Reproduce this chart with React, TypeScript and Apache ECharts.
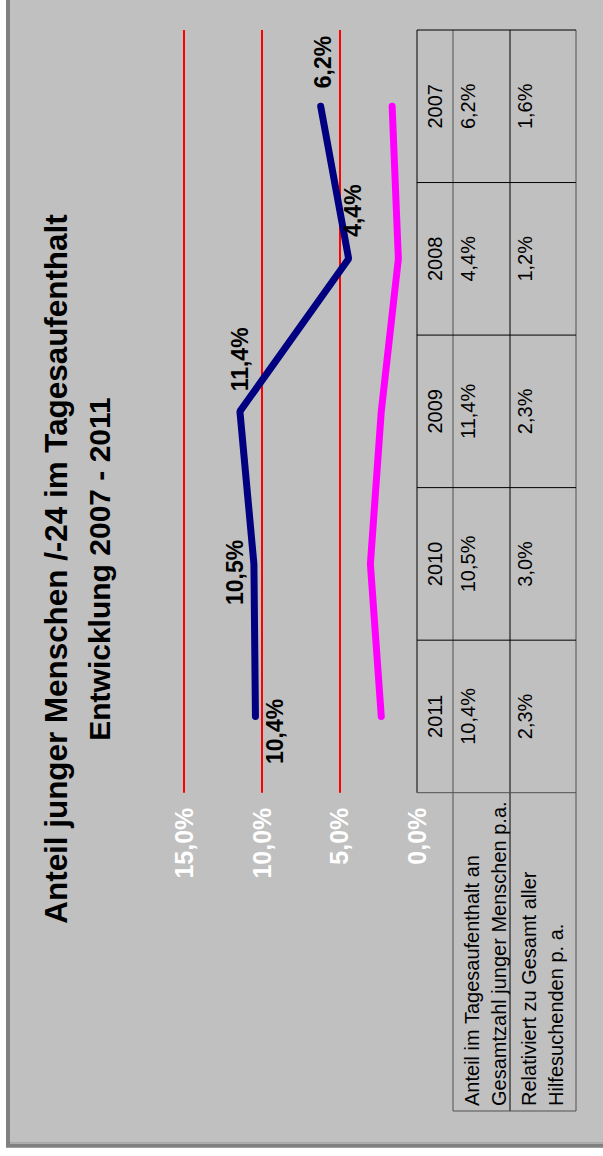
import React, { useEffect, useRef } from "react";
import * as echarts from "echarts";

// ---- data ----
const years = ["2007", "2008", "2009", "2010", "2011"];
const shareYoung = [6.2, 4.4, 11.4, 10.5, 10.4];
const shareRelative = [1.6, 1.2, 2.3, 3.0, 2.3];
const axisTickValues = [0, 5, 10, 15];
const axisTickLabels = ["0,0%", "5,0%", "10,0%", "15,0%"];
const rowHeaders = [
  ["Anteil im Tagesaufenthalt an", "Gesamtzahl junger Menschen p.a."],
  ["Relativiert zu Gesamt aller", "Hilfesuchenden p. a."],
];
const titleLines = [
  "Anteil junger Menschen /-24 im Tagesaufenthalt",
  "Entwicklung 2007 - 2011",
];

// ---- styling / layout ----
const FONT = '"Liberation Sans", Arial, Helvetica, sans-serif';
const W = 603;
const H = 1156;
const fmt = (v: number) => v.toFixed(1).replace(".", ",") + "%";

// label placement for the navy series (screen offsets [dx, dy] from the point)
const labelPlacement = [
  { screen: [2, -18], align: "left" },
  { screen: [4.5, -22], align: "left" },
  { screen: [0, -20], align: "left" },
  { screen: [-19, 8.5], align: "center" },
  { screen: [19.5, 15], align: "center" },
];
// label offsets are applied in the rotated (90° ccw) text frame
const toTextOffset = (s: number[]) => [-s[1], s[0]];

export default function App() {
  const ref = useRef<HTMLDivElement>(null);

  useEffect(() => {
    const el = ref.current!;
    const chart = echarts.init(el, null, { renderer: "svg" });

    const option: any = {
      animation: false,
      backgroundColor: "#ffffff",
      grid: { left: 184, right: W - 417, top: 30, bottom: H - 792.7 },
      xAxis: {
        type: "value",
        min: 0,
        max: 15,
        interval: 5,
        inverse: true,
        position: "bottom",
        axisLine: { show: false },
        axisTick: { show: false },
        splitLine: {
          show: true,
          showMinLine: false,
          lineStyle: { color: "#FF0000", width: 2 },
        },
        axisLabel: {
          rotate: 90,
          margin: 15,
          color: "#ffffff",
          fontSize: 25,
          fontWeight: "bold",
          fontFamily: FONT,
          formatter: (v: number) => {
            const i = axisTickValues.indexOf(v);
            return i >= 0 ? axisTickLabels[i] : "";
          },
        },
      },
      yAxis: {
        type: "category",
        data: years,
        inverse: true,
        boundaryGap: true,
        axisLine: { show: false },
        axisTick: { show: false },
        axisLabel: { show: false },
        splitLine: { show: false },
      },
      series: [
        {
          type: "line",
          data: shareRelative,
          symbol: "none",
          lineStyle: { color: "#FF00FF", width: 7, cap: "round" },
          itemStyle: { color: "#FF00FF" },
          label: { show: false },
          silent: true,
        },
        {
          type: "line",
          data: shareYoung.map((v, i) => ({
            value: v,
            label: {
              offset: toTextOffset(labelPlacement[i].screen),
              align: labelPlacement[i].align,
            },
          })),
          symbol: "circle",
          symbolSize: 1,
          showSymbol: true,
          lineStyle: { color: "#000080", width: 7, cap: "round" },
          itemStyle: { color: "#000080" },
          silent: true,
          label: {
            show: true,
            position: "inside",
            rotate: 90,
            verticalAlign: "middle",
            color: "#000000",
            fontSize: 23,
            fontWeight: "bold",
            fontFamily: FONT,
            formatter: (p: any) => fmt(shareYoung[p.dataIndex]),
          },
        },
      ],
    };
    chart.setOption(option);

    const yCenters = years.map(
      (y) => chart.convertToPixel({ yAxisIndex: 0 } as any, y) as number
    );
    const band = yCenters[1] - yCenters[0];
    const x0 = chart.convertToPixel({ xAxisIndex: 0 } as any, 0) as number;
    const yTop = yCenters[0] - band / 2;
    const yPlotBottom = yCenters[yCenters.length - 1] + band / 2;
    const yTableBottom = 1111;
    const rowEdges = [x0, x0 + 36, x0 + 93, x0 + 159];

    const els: any[] = [];
    // frame
    els.push({
      type: "rect",
      z: -10,
      silent: true,
      shape: { x: 8, y: -10, width: 700, height: 1155.7 },
      style: { fill: "#C0C0C0", stroke: "#808080", lineWidth: 4 },
    });
    els.push({
      type: "line",
      z: -9,
      silent: true,
      shape: { x1: 10, y1: 1142.6, x2: W, y2: 1142.6 },
      style: { stroke: "#A8A8A8", lineWidth: 1.3 },
    });
    // title
    titleLines.forEach((t, i) => {
      els.push({
        type: "text",
        z: 10,
        silent: true,
        x: i === 0 ? 56 : 99,
        y: 569,
        rotation: Math.PI / 2,
        style: {
          text: t,
          fill: "#000000",
          font: `bold ${i === 0 ? 31.4 : 30}px ${FONT}`,
          align: "center",
          verticalAlign: "middle",
        },
      });
    });

    const line = (x1: number, y1: number, x2: number, y2: number, c = "#000000") =>
      els.push({
        type: "line",
        z: 10,
        silent: true,
        shape: { x1, y1, x2, y2 },
        style: { stroke: c, lineWidth: 1 },
      });

    // table borders
    line(rowEdges[0], yTop, rowEdges[0], yPlotBottom);
    line(rowEdges[1], yTop, rowEdges[1], yTableBottom, "#505050");
    line(rowEdges[2], yTop, rowEdges[2], yTableBottom);
    line(rowEdges[3], yTop, rowEdges[3], yTableBottom, "#505050");
    for (let i = 0; i <= years.length; i++) {
      const y = yTop + band * i;
      line(rowEdges[0], y, rowEdges[3], y, i === years.length ? "#505050" : "#000000");
    }
    line(rowEdges[1], yTableBottom, rowEdges[3], yTableBottom, "#505050");

    const cellText = (text: string, x: number, y: number) =>
      els.push({
        type: "text",
        z: 11,
        silent: true,
        x,
        y,
        rotation: Math.PI / 2,
        style: {
          text,
          fill: "#000000",
          font: `20px ${FONT}`,
          align: "center",
          verticalAlign: "middle",
        },
      });

    years.forEach((yr, i) => {
      cellText(yr, x0 + 18, yCenters[i]);
      cellText(fmt(shareYoung[i]), x0 + 51, yCenters[i]);
      cellText(fmt(shareRelative[i]), x0 + 108, yCenters[i]);
    });

    rowHeaders.forEach((lines, r) => {
      els.push({
        type: "text",
        z: 11,
        silent: true,
        x: r === 0 ? x0 + 68.5 : x0 + 125.5,
        y: yTableBottom - 5,
        rotation: Math.PI / 2,
        style: {
          text: lines.join("\n"),
          fill: "#000000",
          font: `20px ${FONT}`,
          lineHeight: 27,
          align: "left",
          verticalAlign: "middle",
        },
      });
    });

    chart.setOption({ graphic: [{ elements: els }] });

    return () => chart.dispose();
  }, []);

  return (
    <div
      ref={ref}
      style={{ position: "absolute", left: 0, top: 0, width: W, height: H }}
    />
  );
}
